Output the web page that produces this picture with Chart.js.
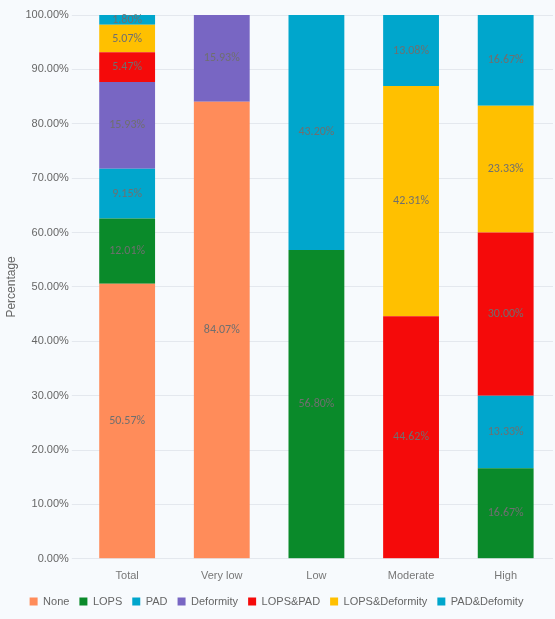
<!DOCTYPE html>
<html><head><script src="https://cdn.jsdelivr.net/npm/chart.js@4"></script>
<style>html,body{margin:0;background:#f7fafd}#w{width:555px;height:619px}</style></head>
<body><div id="w"><canvas id="c"></canvas></div>
<script>
const categories=["Total","Very low","Low","Moderate","High"];
const none=[50.57,84.07,0,0,0];
const lops=[12.01,0,56.80,0,16.67];
const pad=[9.15,0,0,0,13.33];
const deformity=[15.93,15.93,0,0,0];
const lopsPad=[5.47,0,0,44.62,30.00];
const lopsDef=[5.07,0,0,42.31,23.33];
const padDef=[1.80,0,43.20,13.08,16.67];
const yTicks=[0,10,20,30,40,50,60,70,80,90,100];
const names=["None","LOPS","PAD","Deformity","LOPS&PAD","LOPS&Deformity","PAD&Defomity"];
const colors=["#ff8c5a","#0a8a2a","#00a6cc","#7866c3","#f50a0a","#ffc000","#00a6cc"];
const series=[none,lops,pad,deformity,lopsPad,lopsDef,padDef];
const labelPlugin={id:'lbl',afterDatasetsDraw(ch){const c=ch.ctx;c.save();c.font='12px Calibri, Carlito, "Liberation Sans", sans-serif';c.fillStyle='#6f6f6f';c.textAlign='center';c.textBaseline='middle';
ch.data.datasets.forEach((d,i)=>{ch.getDatasetMeta(i).data.forEach((b,j)=>{const v=d.data[j];if(!v)return;c.fillText(v.toFixed(2)+'%',b.x,(b.y+b.base)/2);});});c.restore();}};
new Chart(document.getElementById('c'),{type:'bar',
data:{labels:categories,datasets:series.map((s,i)=>({label:names[i],data:s,backgroundColor:colors[i],categoryPercentage:1,barPercentage:0.59}))},
options:{responsive:true,maintainAspectRatio:false,animation:false,
layout:{padding:{top:15,right:2,left:0,bottom:2}},
plugins:{legend:{position:'bottom',labels:{boxWidth:8,boxHeight:8,padding:10,color:'#666',font:{size:11}}},tooltip:{enabled:false}},
scales:{x:{stacked:true,grid:{display:false},border:{display:false},ticks:{color:'#777',font:{size:11}}},
y:{stacked:true,min:0,max:100,afterBuildTicks(a){a.ticks=yTicks.map(v=>({value:v}));},grid:{color:'#e4e8ee'},border:{display:false},
ticks:{color:'#666',font:{size:11},callback:v=>v.toFixed(2)+'%'},title:{display:true,text:'Percentage',color:'#666',font:{size:12}}}}},
plugins:[labelPlugin]});
</script></body></html>
